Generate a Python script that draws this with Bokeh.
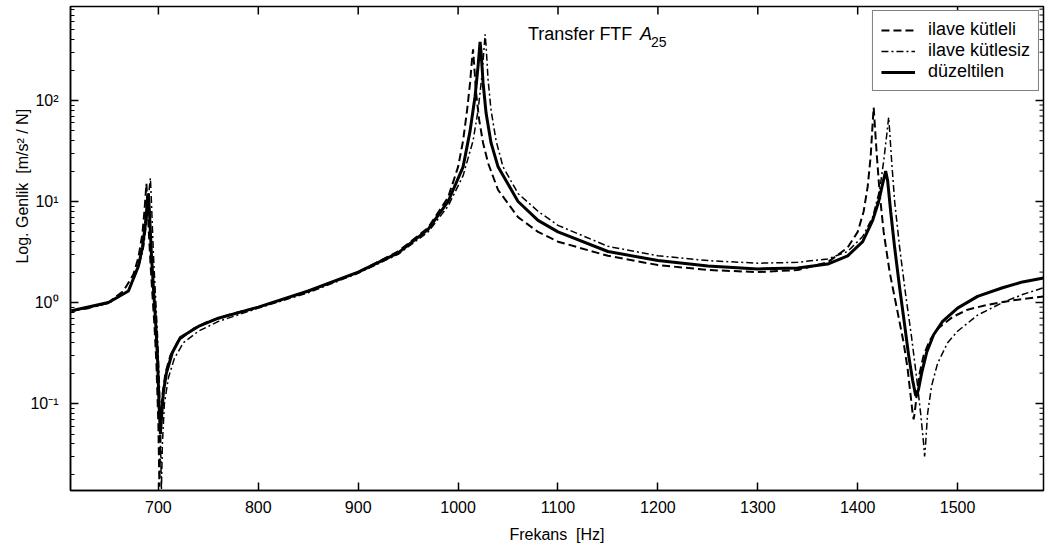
import math
from bokeh.plotting import figure
from bokeh.models import Range1d, FixedTicker, Legend, LegendItem, Label
from bokeh.embed import file_html
from bokeh.resources import INLINE

# ---- data ----
freq_kutleli = [613, 630, 650, 665, 675, 680, 684, 686, 688, 690, 692, 694, 696, 698, 700, 701, 702, 704, 707,
                712, 720, 735, 750, 775, 800, 850, 900, 940, 970, 990, 1000, 1005, 1009, 1012, 1014, 1015, 1016,
                1018, 1021, 1025, 1030, 1040, 1060, 1080, 1100, 1150, 1200, 1250, 1300, 1340, 1370, 1390, 1400,
                1406, 1410, 1413, 1415, 1416, 1417, 1419, 1422, 1426, 1432, 1440, 1446, 1450, 1453, 1455, 1456,
                1457, 1459, 1462, 1466, 1472, 1480, 1495, 1510, 1530, 1555, 1586]
amp_kutleli = [0.83, 0.88, 1.0, 1.3, 1.9, 2.8, 4.8, 8.0, 15.0, 6.0, 2.5, 1.2, 0.6, 0.25, 0.06, 0.015, 0.05, 0.12, 0.2,
               0.3, 0.42, 0.55, 0.65, 0.78, 0.9, 1.3, 2.0, 3.2, 5.5, 11.0, 22.0, 40.0, 80.0, 150.0, 260.0, 320.0, 230.0,
               120.0, 65.0, 38.0, 24.0, 13.0, 7.0, 5.0, 4.0, 2.9, 2.35, 2.1, 2.0, 2.1, 2.5, 3.5, 5.0,
               8.0, 14.0, 28.0, 60.0, 85.0, 60.0, 30.0, 12.0, 5.0, 2.0, 0.8, 0.4, 0.22, 0.12, 0.08, 0.07,
               0.08, 0.12, 0.2, 0.3, 0.42, 0.55, 0.72, 0.85, 0.95, 1.05, 1.15]

freq_kutlesiz = [613, 650, 670, 680, 685, 688, 690, 691, 692, 693, 695, 697, 699, 701, 702, 703, 704, 706, 710, 716,
                 725, 740, 760, 800, 850, 900, 940, 970, 990, 1005, 1015, 1020, 1024, 1026, 1027, 1028, 1030, 1033,
                 1038, 1045, 1060, 1080, 1100, 1150, 1200, 1250, 1300, 1340, 1370, 1390, 1405, 1415, 1422, 1426,
                 1429, 1431, 1432, 1434, 1437, 1442, 1448, 1454, 1459, 1463, 1466, 1467, 1468, 1470, 1474, 1480,
                 1490, 1500, 1520, 1545, 1565, 1586]
amp_kutlesiz = [0.82, 0.98, 1.3, 2.2, 3.5, 6.0, 10.0, 14.0, 17.0, 10.0, 3.0, 1.2, 0.5, 0.15, 0.05, 0.014, 0.04, 0.1,
                0.18, 0.28, 0.4, 0.52, 0.65, 0.88, 1.25, 1.95, 3.0, 5.0, 9.0, 18.0, 40.0, 80.0, 180.0, 330.0, 450.0,
                350.0, 160.0, 80.0, 40.0, 22.0, 12.0, 8.0, 5.8, 3.6, 2.9, 2.6, 2.45, 2.5, 2.7, 3.2, 4.5, 7.0, 13.0,
                25.0, 45.0, 68.0, 50.0, 25.0, 10.0, 3.5, 1.2, 0.45, 0.18, 0.08, 0.04, 0.03, 0.04, 0.08, 0.15, 0.25,
                0.4, 0.52, 0.75, 1.0, 1.2, 1.4]

freq_duzeltilen = [613, 650, 670, 680, 684, 687, 689, 690, 691, 693, 695, 697, 699, 700, 701, 702, 703, 705, 708,
                   714, 722, 740, 760, 800, 850, 900, 940, 970, 990, 1005, 1012, 1017, 1020, 1022, 1023, 1025, 1028,
                   1033, 1040, 1060, 1080, 1100, 1150, 1200, 1250, 1300, 1340, 1370, 1390, 1405, 1415, 1421, 1425,
                   1428, 1430, 1433, 1437, 1442, 1447, 1451, 1455, 1458, 1459, 1461, 1464, 1469, 1476, 1485, 1500,
                   1520, 1545, 1565, 1586]
amp_duzeltilen = [0.83, 1.0, 1.3, 2.3, 3.5, 6.0, 10.0, 12.0, 8.0, 3.0, 1.4, 0.7, 0.3, 0.15, 0.08, 0.05, 0.07, 0.13,
                  0.2, 0.32, 0.45, 0.58, 0.7, 0.9, 1.3, 2.0, 3.1, 5.3, 10.0, 22.0, 50.0, 110.0, 220.0, 380.0, 300.0,
                  150.0, 75.0, 38.0, 22.0, 10.0, 6.5, 5.0, 3.2, 2.6, 2.3, 2.15, 2.2, 2.4, 2.9, 4.0, 6.5, 10.0, 15.0,
                  20.0, 16.0, 8.0, 3.5, 1.4, 0.6, 0.3, 0.17, 0.12, 0.12, 0.14, 0.2, 0.32, 0.48, 0.65, 0.88,
                  1.15, 1.4, 1.6, 1.75]

series_names = ["ilave kütleli", "ilave kütlesiz", "düzeltilen"]
x_ticks = [700, 800, 900, 1000, 1100, 1200, 1300, 1400, 1500]
y_ticks = [0.1, 1, 10, 100]
y_tick_labels = ["10\u207b\u00b9", "10\u2070", "10\u00b9", "10\u00b2"]
y_minor = [m * d for d in [0.01, 0.1, 1, 10, 100] for m in range(2, 10)]

FONT = "Liberation Sans"
X0, X1 = 612, 1586
Y0, Y1 = 0.0138, 850
W, H = 1049, 548
BL, BR, BT, BB = 70, 6, 6, 58

p = figure(width=W, height=H, x_range=Range1d(X0, X1), y_range=Range1d(Y0, Y1),
           y_axis_type="log", output_backend="svg", toolbar_location=None,
           min_border_left=BL, min_border_right=BR, min_border_top=BT, min_border_bottom=BB)
p.xgrid.grid_line_color = None
p.ygrid.grid_line_color = None
p.outline_line_color = "black"
p.outline_line_width = 1.5
p.background_fill_color = "white"
p.border_fill_color = "white"

r1 = p.line(freq_kutleli, amp_kutleli, line_color="black", line_width=2, line_dash="8 4")
r2 = p.line(freq_kutlesiz, amp_kutlesiz, line_color="black", line_width=1.5, line_dash="7 3 2 3")
r3 = p.line(freq_duzeltilen, amp_duzeltilen, line_color="black", line_width=3)

# mirrored inward tick marks on the top and right edges (short dash markers just inside the frame)
fw = W - BL - BR
fh = H - BT - BB
x_per_px = (X1 - X0) / fw
dec_per_px = (math.log10(Y1) - math.log10(Y0)) / fh
major_len, minor_len = 8, 4
y_minor_in = [v for v in y_minor if Y0 < v < Y1]
p.scatter(x=x_ticks, y=[Y1 / 10 ** (major_len / 2 * dec_per_px)] * len(x_ticks), marker="dash",
          angle=math.pi / 2, size=major_len, line_color="black", line_width=1.5)
p.scatter(x=[X1 - major_len / 2 * x_per_px] * len(y_ticks), y=y_ticks, marker="dash",
          size=major_len, line_color="black", line_width=1.5)
p.scatter(x=[X1 - minor_len / 2 * x_per_px] * len(y_minor_in), y=y_minor_in, marker="dash",
          size=minor_len, line_color="black", line_width=1)

# axes
xa = p.xaxis[0]
xa.ticker = FixedTicker(ticks=x_ticks)
xa.axis_label = "Frekans\u00a0\u00a0[Hz]"
ya = p.yaxis[0]
ya.ticker = FixedTicker(ticks=y_ticks, minor_ticks=y_minor)
ya.major_label_overrides = {v: s for v, s in zip(y_ticks, y_tick_labels)}
# leading no-break spaces move the visible title above the axis centre, as in the reference
ya.axis_label = "\u00a0" * 28 + "Log. Genlik\u00a0\u00a0[m/s\u00b2 / N]"

for ax in (xa, ya):
    ax.axis_label_text_font = FONT
    ax.axis_label_text_font_style = "normal"
    ax.axis_label_text_color = "black"
    ax.major_label_text_font = FONT
    ax.major_label_text_color = "black"
    ax.major_label_text_font_size = "16px"
    ax.axis_label_text_font_size = "16px"
    ax.major_tick_in = major_len
    ax.major_tick_out = 0
    ax.minor_tick_in = minor_len
    ax.minor_tick_out = 0
    ax.axis_line_color = "black"
    ax.axis_line_width = 1.5
    ax.major_tick_line_color = "black"
    ax.major_tick_line_width = 1.5
    ax.minor_tick_line_color = "black"
xa.minor_tick_line_color = None
xa.major_label_standoff = 10
xa.axis_label_standoff = 10
ya.major_label_standoff = 12
ya.axis_label_standoff = -4

# title inside plot
p.add_layout(Label(x=1070, y=458, text="Transfer FTF", text_font=FONT, text_font_size="18px",
                   text_baseline="middle", text_align="left", text_color="black"))
p.add_layout(Label(x=1182, y=458, text="A", text_font=FONT, text_font_size="18px", text_font_style="italic",
                   text_baseline="middle", text_align="left", text_color="black"))
p.add_layout(Label(x=1193, y=458, y_offset=-8, text="25", text_font=FONT, text_font_size="14px",
                   text_baseline="middle", text_align="left", text_color="black"))

legend = Legend(items=[LegendItem(label=series_names[0], renderers=[r1]),
                       LegendItem(label=series_names[1], renderers=[r2]),
                       LegendItem(label=series_names[2], renderers=[r3])],
                location="top_right", margin=4, padding=8, spacing=0,
                label_text_font=FONT, label_text_font_size="18px", label_text_color="black",
                glyph_width=34, glyph_height=18, label_height=18, label_standoff=13,
                border_line_color="black", border_line_width=1, background_fill_alpha=1)
p.add_layout(legend)

open("out.html", "w").write(file_html(p, INLINE))
